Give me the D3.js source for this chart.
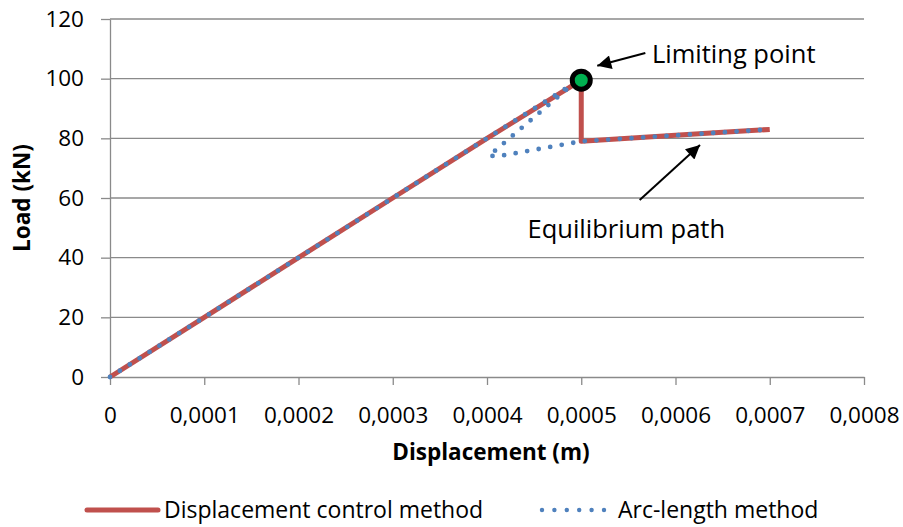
<!DOCTYPE html>
<html>
<head>
<meta charset="utf-8">
<script src="https://cdn.jsdelivr.net/npm/d3@7"></script>
<style>
  html, body { margin: 0; padding: 0; background: #fff; }
  svg { display: block; font-family: "Open Sans", "Liberation Sans", sans-serif; }
</style>
</head>
<body>
<svg id="chart" width="903" height="527"></svg>
<script>
// ---- data ----
const xTicks = [0, 0.0001, 0.0002, 0.0003, 0.0004, 0.0005, 0.0006, 0.0007, 0.0008];
const xTickLabels = ["0", "0,0001", "0,0002", "0,0003", "0,0004", "0,0005", "0,0006", "0,0007", "0,0008"];
const yTicks = [0, 20, 40, 60, 80, 100, 120];
const yTickLabels = ["0", "20", "40", "60", "80", "100", "120"];

const dispControlX = [0, 0.0001, 0.0002, 0.0003, 0.0004, 0.0005, 0.0005, 0.00055, 0.0006, 0.00065, 0.0007];
const dispControlY = [0, 20, 40, 60, 80, 99.5, 79, 80, 81, 82, 83];

const arcLengthX = [0, 0.0001, 0.0002, 0.0003, 0.0004, 0.000488, 0.000486, 0.000402, 0.000414, 0.0005, 0.00055, 0.0006, 0.00065, 0.0007];
const arcLengthY = [0, 20, 40, 60, 80, 97.6, 96.8, 74.1, 74.1, 79, 80, 81, 82, 83];

const limitPoint = [0.0005, 99.5];
const seriesNames = ["Displacement control method", "Arc-length method"];

// ---- layout ----
const svg = d3.select("#chart");
svg.append("rect").attr("width", 903).attr("height", 527).attr("fill", "#fff");
const x = d3.scaleLinear().domain([0, 0.0008]).range([110, 864]);
const y = d3.scaleLinear().domain([0, 120]).range([377, 19]);
const gridColor = "#8a8a8a";
const red = "#C0504D", blue = "#4F81BD";

// gridlines
svg.append("g").selectAll("line").data(yTicks.filter(d => d > 0)).join("line")
  .attr("x1", x(0)).attr("x2", x(0.0008))
  .attr("y1", d => y(d)).attr("y2", d => y(d))
  .attr("stroke", gridColor).attr("stroke-width", 1.3);

// axes
const xAxis = svg.append("g").attr("transform", `translate(0,${y(0)})`)
  .call(d3.axisBottom(x).tickValues(xTicks).tickFormat((d, i) => xTickLabels[i]).tickSizeInner(8).tickSizeOuter(0).tickPadding(20));
const yAxis = svg.append("g").attr("transform", `translate(${x(0)},0)`)
  .call(d3.axisLeft(y).tickValues(yTicks).tickFormat((d, i) => yTickLabels[i]).tickSizeInner(9).tickSizeOuter(0).tickPadding(17));
[xAxis, yAxis].forEach(g => {
  g.select(".domain").attr("stroke", gridColor).attr("stroke-width", 1.3);
  g.selectAll(".tick line").attr("stroke", gridColor).attr("stroke-width", 1.3);
  g.selectAll(".tick text").attr("fill", "#000").style("font-size", "22.5px").style("font-family", "'Open Sans', sans-serif");
});
xAxis.selectAll(".tick text").attr("dy", "0.32em").attr("y", 39);

// axis titles
svg.append("text").attr("x", 491).attr("y", 452).attr("dy", "0.35em")
  .attr("text-anchor", "middle").style("font-size", "22.5px").style("font-weight", "bold")
  .text("Displacement (m)");
svg.append("text").attr("transform", "translate(22,198) rotate(-90)").attr("dy", "0.35em")
  .attr("text-anchor", "middle").style("font-size", "22.5px").style("font-weight", "bold")
  .text("Load (kN)");

// series
const line = d3.line().x(d => x(d[0])).y(d => y(d[1]));
const dcData = dispControlX.map((v, i) => [v, dispControlY[i]]);
const alData = arcLengthX.map((v, i) => [v, arcLengthY[i]]);
svg.append("path").datum(dcData).attr("d", line)
  .attr("fill", "none").attr("stroke", red).attr("stroke-width", 5).attr("stroke-linejoin", "round");
svg.append("path").datum(alData).attr("d", line)
  .attr("fill", "none").attr("stroke", blue).attr("stroke-width", 4.8)
  .attr("stroke-linecap", "round").attr("stroke-dasharray", "0 11.7");

// limiting point marker
svg.append("circle").attr("cx", x(limitPoint[0])).attr("cy", y(limitPoint[1])).attr("r", 9)
  .attr("fill", "#00B050").attr("stroke", "#000").attr("stroke-width", 5);

// arrows
const defs = svg.append("defs");
defs.append("marker").attr("id", "arrow").attr("viewBox", "0 0 10 10").attr("refX", 10).attr("refY", 5)
  .attr("markerWidth", 7.5).attr("markerHeight", 7).attr("markerUnits", "strokeWidth").attr("orient", "auto")
  .append("path").attr("d", "M0,0 L10,5 L0,10 Z").attr("fill", "#000");

const arrows = [
  { from: [0.000568, 108.6], to: [0.000517, 104.3] },
  { from: [0.000562, 59.3], to: [0.000626, 77.8] }
];
svg.append("g").selectAll("line").data(arrows).join("line")
  .attr("x1", d => x(d.from[0])).attr("y1", d => y(d.from[1]))
  .attr("x2", d => x(d.to[0])).attr("y2", d => y(d.to[1]))
  .attr("stroke", "#000").attr("stroke-width", 2).attr("marker-end", "url(#arrow)");

svg.append("text").attr("x", x(0.000575)).attr("y", y(105.3))
  .style("font-size", "25.5px").text("Limiting point");
svg.append("text").attr("x", x(0.000443)).attr("y", y(46.6))
  .style("font-size", "25.5px").text("Equilibrium path");

// legend
const legendY = 510;
const lg = svg.append("g");
lg.append("line").attr("x1", 87).attr("x2", 158).attr("y1", legendY).attr("y2", legendY)
  .attr("stroke", red).attr("stroke-width", 5).attr("stroke-linecap", "round");
lg.append("text").attr("x", 164).attr("y", legendY).attr("dy", "0.35em").style("font-size", "23px").text(seriesNames[0]);
lg.append("line").attr("x1", 542).attr("x2", 604).attr("y1", legendY).attr("y2", legendY)
  .attr("stroke", blue).attr("stroke-width", 4.4).attr("stroke-linecap", "round").attr("stroke-dasharray", "0 12.4");
lg.append("text").attr("x", 618).attr("y", legendY).attr("dy", "0.35em").style("font-size", "23px").text(seriesNames[1]);
</script>
</body>
</html>
